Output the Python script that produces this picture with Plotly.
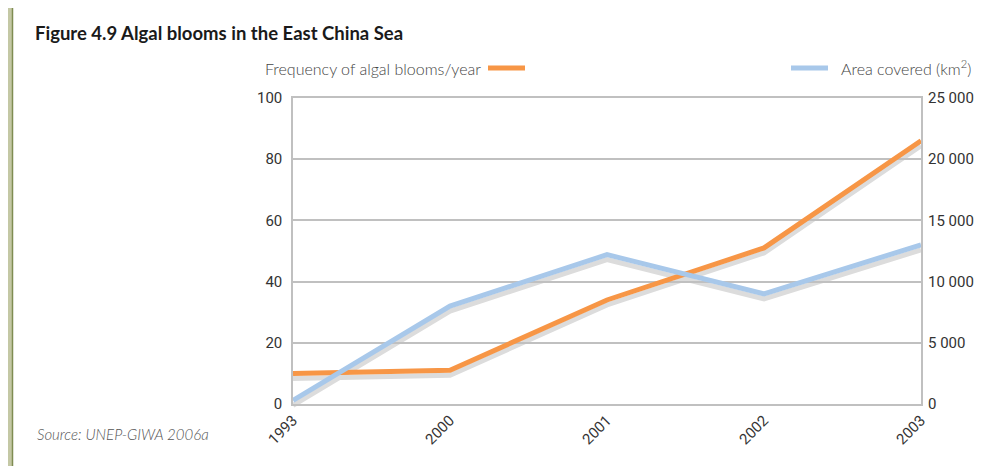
import plotly.graph_objects as go

# data
years = ['1993', '2000', '2001', '2002', '2003']
blooms_per_year = [10, 11, 34, 51, 86]
area_km2 = [300, 8000, 12200, 9000, 13000]

title_text = '<b>Figure 4.9 Algal blooms in the East China Sea</b>'
source_text = 'Source: UNEP-GIWA 2006a'
blooms_label = 'Frequency of algal blooms/year'
area_label = 'Area covered (km<sup>2</sup>)'

# page body has an 8px margin, so the figure starts at (8, 8) on screen
OFF = 8
W, H = 993 - OFF, 466 - OFF
ML, MR, MT, MB = 285, 72, 90, 57
plot_w = W - ML - MR
plot_h = H - MT - MB
shift = 5 / plot_h   # drop of the grey shadow lines

orange = '#f79646'
blue = '#a8c8ea'
shadow = '#dcdcdc'
grid = '#c0c0c0'
tick_font = dict(family='Roboto', size=15, color='#333333')

fig = go.Figure()

# grey shadow copies first (lower subplot, invisible axes)
fig.add_trace(go.Scatter(x=years, y=blooms_per_year, mode='lines',
                         line=dict(color=shadow, width=5),
                         xaxis='x', yaxis='y', hoverinfo='skip'))
fig.add_trace(go.Scatter(x=years, y=area_km2, mode='lines',
                         line=dict(color=shadow, width=5),
                         xaxis='x', yaxis='y2', hoverinfo='skip'))

# main lines
fig.add_trace(go.Scatter(x=years, y=area_km2, mode='lines', name=area_label,
                         line=dict(color=blue, width=5),
                         xaxis='x2', yaxis='y4'))
fig.add_trace(go.Scatter(x=years, y=blooms_per_year, mode='lines', name=blooms_label,
                         line=dict(color=orange, width=5),
                         xaxis='x2', yaxis='y3'))

hidden = dict(visible=False, showgrid=False, zeroline=False)
fig.update_layout(
    width=W, height=H,
    margin=dict(l=ML, r=MR, t=MT, b=MB),
    paper_bgcolor='#c4c8a5',
    plot_bgcolor='rgba(0,0,0,0)',
    showlegend=False,
    separators='. ',
    xaxis=dict(hidden, type='category', range=[0, 4], domain=[0, 1], anchor='y'),
    yaxis=dict(hidden, range=[0, 100], domain=[0, 1 - shift], anchor='x'),
    yaxis2=dict(hidden, range=[0, 25000], overlaying='y', side='right'),
    xaxis2=dict(type='category', range=[0, 4], domain=[0, 1], anchor='y3',
                showgrid=False, zeroline=False, showline=True, mirror=True,
                linecolor=grid, linewidth=1.5, ticks='', tickangle=-45,
                tickfont=tick_font),
    yaxis3=dict(range=[0, 100], dtick=20, domain=[shift, 1], anchor='x2',
                showgrid=True, gridcolor=grid, gridwidth=1.5, zeroline=False,
                showline=True, mirror=True, linecolor=grid, linewidth=1.5,
                ticks='', ticklabelstandoff=6, tickfont=tick_font),
    yaxis4=dict(range=[0, 25000], dtick=5000, overlaying='y3', side='right',
                showgrid=False, zeroline=False, ticks='', tickformat=',d',
                ticklabelstandoff=6, tickfont=tick_font),
    font=dict(family='Lato, Noto Sans', color='#333333'),
)

# screen pixel (reference) -> paper coordinates
px = lambda v: (v - OFF - ML) / plot_w
py = lambda v: (H - MB - (v - OFF)) / plot_h

# frame: olive surround, dark olive edge, white panel
fig.add_shape(type='rect', xref='paper', yref='paper', layer='below',
              x0=px(12.5), x1=px(1000), y0=py(480), y1=py(3.5),
              fillcolor='white', line=dict(color='#7f8c52', width=1.5))

# legend samples and labels
fig.add_shape(type='line', xref='paper', yref='paper', x0=px(488), x1=px(525),
              y0=py(68), y1=py(68), line=dict(color=orange, width=5))
fig.add_shape(type='line', xref='paper', yref='paper', x0=px(791), x1=px(828),
              y0=py(68), y1=py(68), line=dict(color=blue, width=5))
fig.add_annotation(text=blooms_label, xref='paper', yref='paper', x=px(483), y=py(68),
                   xanchor='right', yanchor='middle', showarrow=False,
                   font=dict(family='Lato', size=16, color='#444444', weight=300))
fig.add_annotation(text=area_label, xref='paper', yref='paper', x=px(839), y=py(67),
                   xanchor='left', yanchor='middle', showarrow=False,
                   font=dict(family='Lato', size=16, color='#444444', weight=300))

fig.add_annotation(text=title_text, xref='paper', yref='paper', x=px(33), y=py(33),
                   xanchor='left', yanchor='middle', showarrow=False,
                   font=dict(family='Lato', size=18.5, color='#1a1a1a'))
fig.add_annotation(text='<i>' + source_text + '</i>', xref='paper', yref='paper',
                   x=px(35), y=py(434), xanchor='left', yanchor='middle', showarrow=False,
                   font=dict(family='Lato', size=15, color='#555555', weight=300))

fig.write_html('out.html')
